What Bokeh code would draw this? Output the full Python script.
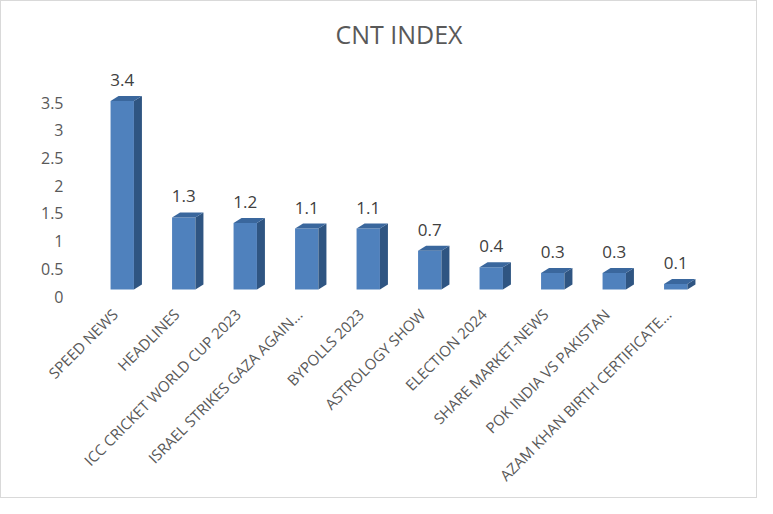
import math
from bokeh.plotting import figure
from bokeh.models import Range1d, LinearAxis, FixedTicker, ColumnDataSource
from bokeh.core.properties import value
from bokeh.embed import file_html
from bokeh.resources import INLINE

# ---- data ----
categories = ["SPEED NEWS", "HEADLINES", "ICC CRICKET WORLD CUP 2023",
              "ISRAEL STRIKES GAZA AGAIN...", "BYPOLLS 2023", "ASTROLOGY SHOW",
              "ELECTION 2024", "SHARE MARKET-NEWS", "POK INDIA VS PAKISTAN",
              "AZAM KHAN BIRTH CERTIFICATE..."]
values = [3.4, 1.3, 1.2, 1.1, 1.1, 0.7, 0.4, 0.3, 0.3, 0.1]
y_ticks = [0, 0.5, 1, 1.5, 2, 2.5, 3, 3.5]

# ---- style ----
FONT = "Open Sans"
TEXT_COL = "#595959"
FRONT = "#4f81bd"
SIDE = "#2f5582"
TOP = "#3a679d"
HALF_W = 0.19    # half width of front face (category units)
DX = 0.13        # 3D depth in x (category units)
DY = 0.09        # 3D depth in y (value units)
LABEL_SHIFT = 0.12

n = len(categories)
centers = [i + 0.5 for i in range(n)]
tick_pos = [c - LABEL_SHIFT for c in centers]

p = figure(width=757, height=498, output_backend="svg", toolbar_location=None,
           x_range=Range1d(0, n), y_range=Range1d(-0.144, 4.114),
           y_axis_location=None, min_border_left=90, min_border_right=52,
           min_border_top=60, min_border_bottom=202)
p.extra_y_ranges = {"axis": Range1d(-0.018, 4.24)}
p.outline_line_color = None
p.xgrid.visible = False
p.ygrid.visible = False
p.styles = {"border": "1px solid #d9d9d9"}

p.title.text = "CNT INDEX"
p.title.align = "center"
p.title.text_font = FONT
p.title.text_font_size = "25px"
p.title.text_font_style = "normal"
p.title.text_color = TEXT_COL
p.title.standoff = 22

# front faces
p.vbar(x=centers, top=values, bottom=0, width=2 * HALF_W,
       fill_color=FRONT, line_color=None)

# side and top faces
side_xs, side_ys, top_xs, top_ys = [], [], [], []
for c, v in zip(centers, values):
    r = c + HALF_W
    l = c - HALF_W
    side_xs.append([r, r + DX, r + DX, r])
    side_ys.append([0, DY, v + DY, v])
    top_xs.append([l, r, r + DX, l + DX])
    top_ys.append([v, v, v + DY, v + DY])
p.patches(side_xs, side_ys, fill_color=SIDE, line_color=None)
p.patches(top_xs, top_ys, fill_color=TOP, line_color=None)

# data labels
src = ColumnDataSource(dict(x=centers, y=[v + DY for v in values],
                            t=[f"{v:.1f}" for v in values]))
p.text(x="x", y="y", text="t", source=src, text_align="center",
       text_baseline="bottom", y_offset=-10, text_font=value(FONT),
       text_font_size="17px", text_color="#404040")

# y axis
yax = LinearAxis(y_range_name="axis", ticker=FixedTicker(ticks=y_ticks))
yax.axis_line_color = None
yax.major_tick_line_color = None
yax.minor_tick_line_color = None
yax.major_label_standoff = 22
yax.major_label_text_font = FONT
yax.major_label_text_font_size = "16px"
yax.major_label_text_color = TEXT_COL
p.add_layout(yax, "left")

# x axis
xax = p.xaxis[0]
xax.ticker = FixedTicker(ticks=tick_pos)
xax.major_label_overrides = {t: lab for t, lab in zip(tick_pos, categories)}
xax.major_label_orientation = math.pi / 4
xax.axis_line_color = None
xax.major_tick_line_color = None
xax.minor_tick_line_color = None
xax.major_label_standoff = 8
xax.major_label_text_font = FONT
xax.major_label_text_font_size = "15px"
xax.major_label_text_color = TEXT_COL

open("out.html", "w").write(file_html(p, INLINE))
